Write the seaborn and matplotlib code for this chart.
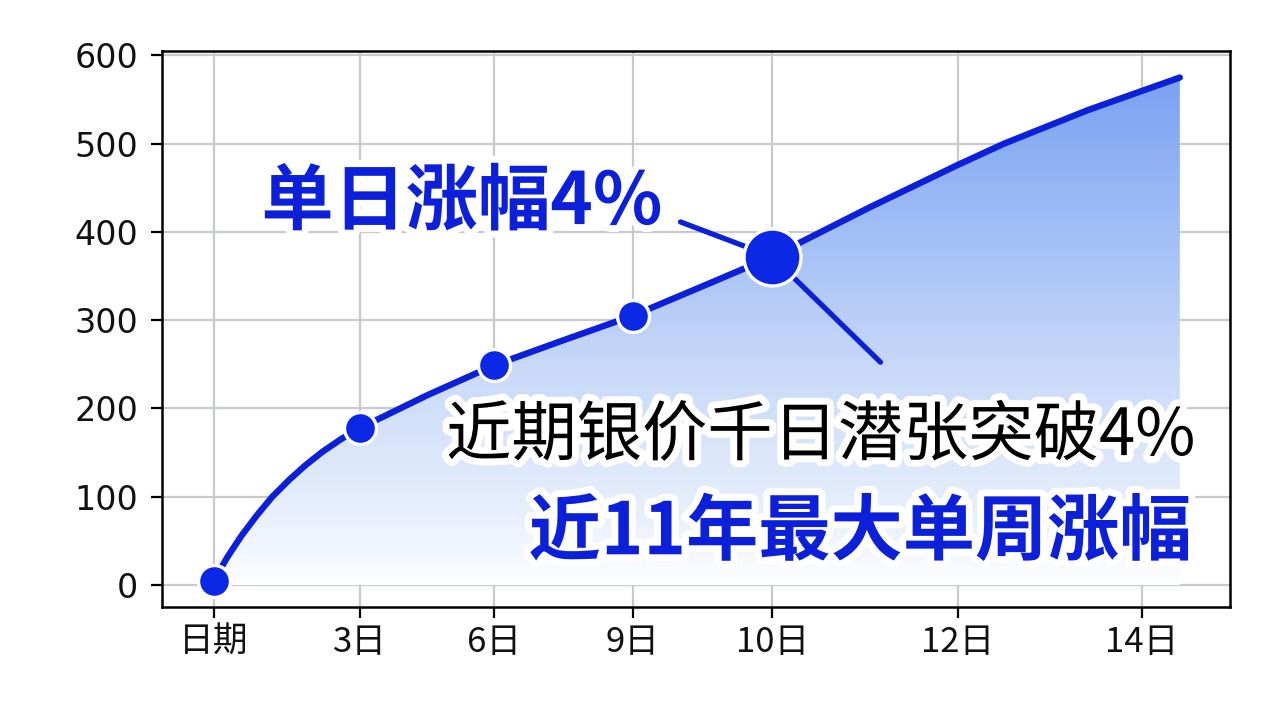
import numpy as np
import pandas as pd
import matplotlib
matplotlib.use("Agg")
import matplotlib.pyplot as plt
import matplotlib.patheffects as pe
from matplotlib.colors import LinearSegmentedColormap
import seaborn as sns

# 刻度
tick_labels = ['日期', '3日', '6日', '9日', '10日', '12日', '14日']
tick_pos = [0, 1.05, 2.01, 3, 4, 5.33, 6.65]

# 标记点
point_x = [0, 1.05, 2.01, 3, 4]
point_y = [5, 178, 249, 305, 372]
highlight_idx = 4

# 曲线读数
curve_x = [0, 0.1, 0.2, 0.31, 0.42, 0.54, 0.66, 0.78, 0.91, 1.05, 1.53,
           2.01, 2.50, 3.0, 3.48, 4.0, 4.70, 5.33, 5.66, 6.26, 6.92]
curve_y = [5, 32, 56, 79, 100, 119, 136, 151, 165, 178, 215,
           249, 277, 305, 337, 372, 428, 476, 500, 538, 575]

title_top = '单日涨幅4%'
note_line1 = '近期银价千日潜张突破4%'
note_line2 = '近11年最大单周涨幅'

BLUE = '#0b20d8'
CJK = ['Noto Sans CJK SC', 'DejaVu Sans']

sns.set_theme(style='whitegrid')
plt.rcParams['font.family'] = ['DejaVu Sans', 'Noto Sans CJK SC']

fig = plt.figure(figsize=(12.8, 7.19), dpi=100)
ax = fig.add_axes([0.1266, 0.1558, 0.8344, 0.7732])

ymin, ymax = -25, 605
xmin, xmax = -0.37, 7.28

# 渐变填充
curve = pd.DataFrame({'x': curve_x, 'y': curve_y})
poly = ax.fill_between(curve['x'], curve['y'], ymin, color='none', lw=0)
cmap = LinearSegmentedColormap.from_list('fade', ['#ffffff', '#c9daf9', '#7aa2f2'])
grad = np.linspace(0, 1, 256).reshape(-1, 1) ** 0.8
img = ax.imshow(grad, cmap=cmap, aspect='auto', origin='lower',
                extent=[curve_x[0], curve_x[-1], 0, curve_y[-1]], zorder=1)
img.set_clip_path(poly.get_paths()[0], transform=ax.transData)
ax.set_xlim(xmin, xmax)
ax.set_ylim(ymin, ymax)

# 曲线
sns.lineplot(data=curve, x='x', y='y', color=BLUE, linewidth=4.6, ax=ax,
             zorder=3, sort=False)

# 点
pts = pd.DataFrame({'x': point_x, 'y': point_y})
normal = pts.drop(index=highlight_idx)
ax.scatter(normal['x'], normal['y'], s=23 ** 2, color='#0a28e6', edgecolor='white',
           linewidth=2.4, zorder=5)
hx, hy = pts.loc[highlight_idx, 'x'], pts.loc[highlight_idx, 'y']
ax.scatter([hx], [hy], s=41 ** 2, color='#0a28e6', edgecolor='white',
           linewidth=2.4, zorder=6)

# 引线
for dx, dy in [(-66, 25), (78, -76)]:
    ax.annotate('', xy=(hx, hy), xytext=(dx, dy), textcoords='offset points',
                arrowprops=dict(arrowstyle='-', color=BLUE, lw=3.8,
                                shrinkA=0, shrinkB=21), zorder=4)

halo = [pe.withStroke(linewidth=10, foreground='white')]
ax.text(0.093, 0.727, title_top, transform=ax.transAxes, ha='left', va='center',
        fontsize=52, fontweight='bold', color=BLUE, family=CJK,
        path_effects=halo, zorder=7)
ax.text(0.967, 0.306, note_line1, transform=ax.transAxes, ha='right', va='center',
        fontsize=47, color='black', family=CJK, path_effects=halo, zorder=7)
ax.text(0.964, 0.133, note_line2, transform=ax.transAxes, ha='right', va='center',
        fontsize=52, fontweight='bold', color=BLUE, family=CJK,
        path_effects=halo, zorder=7)

# 坐标轴
ax.set_xticks(tick_pos)
ax.set_xticklabels(tick_labels, family=CJK)
ax.set_yticks(range(0, 601, 100))
ax.set_xlabel('')
ax.set_ylabel('')
ax.grid(True, color='#c8c9ce', lw=1.6)
ax.set_axisbelow(True)
ax.set_facecolor('white')
for s in ax.spines.values():
    s.set_color('black')
    s.set_linewidth(1.8)
ax.tick_params(axis='both', which='major', bottom=True, left=True, length=8,
               width=1.6, color='black', labelcolor='#111111')
ax.tick_params(axis='y', pad=9, labelsize=24)
ax.tick_params(axis='x', pad=5, labelsize=25)

fig.savefig('out.png', dpi=100, facecolor='white')
